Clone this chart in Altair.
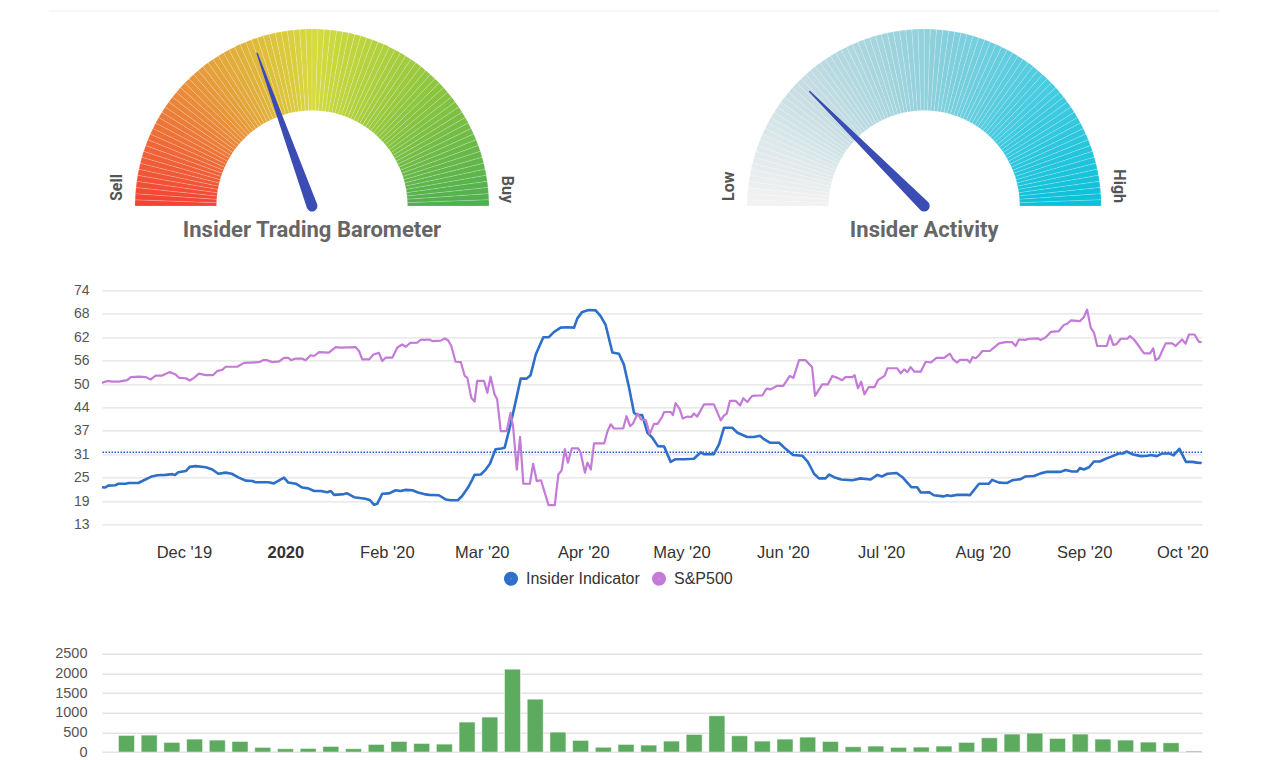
import math
import altair as alt
import pandas as pd

# ---------------- data ----------------
START = "2019-11-06"          # first day shown on the time axis
END = (2020, 10, 7)           # last day shown on the time axis
BAR_START = "2019-11-12"      # first weekly bar

# (day offset from START, value)
INSIDER = [(0, 22.7), (0.9, 22.6), (1.9, 23.1), (4.0, 23.2), (5.0, 23.6), (7.2, 23.6), (8.2, 23.8), (11.1, 23.8),
           (12.8, 24.5), (14.9, 25.4), (16.9, 25.8), (19.5, 25.9), (21.5, 26.1), (22.3, 25.9), (23.3, 26.6),
           (25.6, 26.9), (26.8, 28.0), (28.6, 28.2), (31.7, 27.9), (33.7, 27.3), (35.5, 26.2), (37.8, 26.5),
           (39.6, 26.2), (41.8, 25.2), (43.9, 24.4), (45.9, 24.3), (46.9, 24.0), (49.2, 24.0), (50.8, 24.0),
           (52.5, 23.7), (54.1, 24.5), (55.6, 25.2), (56.9, 23.9), (59.2, 23.6), (61.2, 22.6), (63.0, 22.4),
           (64.8, 21.7), (66.8, 21.7), (68.8, 21.4), (69.9, 21.7), (70.9, 20.7), (73.9, 20.9), (74.9, 21.1),
           (77.0, 20.1), (80.5, 19.7), (81.9, 19.3), (83.1, 18.1), (84.1, 18.4), (85.6, 21.0), (87.7, 21.1),
           (89.7, 21.9), (91.2, 21.7), (92.8, 22.0), (94.8, 21.9), (96.5, 21.3), (98.4, 20.9), (99.9, 20.7),
           (102.9, 20.6), (105.0, 19.5), (106.5, 19.3), (108.7, 19.3), (110.0, 20.4), (111.8, 22.6),
           (113.1, 24.7), (113.8, 25.9), (115.7, 26.0), (117.2, 27.3), (118.5, 28.8), (120.2, 32.6),
           (122.0, 32.8), (123.0, 33.0), (124.8, 39.1), (126.4, 45.2), (127.9, 51.0), (129.7, 51.0),
           (130.9, 51.9), (132.5, 57.3), (134.8, 61.8), (136.5, 61.8), (138.1, 63.2), (140.1, 64.3),
           (142.1, 64.4), (144.2, 64.3), (145.2, 66.7), (146.7, 68.4), (148.7, 68.9), (150.8, 68.8),
           (152.3, 67.3), (153.8, 65.1), (155.9, 57.8), (157.9, 57.5), (159.4, 54.7), (161.0, 48.6),
           (162.5, 42.1), (163.5, 41.5), (165.0, 41.5), (166.6, 36.9), (168.1, 35.6), (169.8, 33.4),
           (171.7, 33.3), (173.7, 29.3), (175.2, 30.0), (177.8, 30.0), (180.8, 30.1), (182.9, 31.8),
           (183.9, 31.3), (186.9, 31.3), (188.5, 33.9), (190.0, 38.2), (192.5, 38.2), (194.1, 36.9),
           (197.1, 35.8), (199.1, 35.8), (201.0, 36.1), (202.2, 35.2), (204.0, 34.3), (206.8, 34.3),
           (208.8, 32.7), (211.1, 31.1), (213.9, 30.9), (215.6, 29.3), (217.5, 26.2), (219.0, 25.0),
           (221.0, 25.0), (222.1, 26.0), (223.6, 25.3), (225.8, 24.7), (229.2, 24.5), (231.7, 25.0),
           (234.8, 24.7), (236.8, 25.9), (238.3, 25.5), (239.9, 26.2), (242.7, 26.4), (244.5, 25.3),
           (247.2, 22.7), (249.0, 22.7), (250.1, 21.3), (252.6, 21.4), (254.1, 20.6), (257.0, 20.3),
           (258.2, 20.6), (259.2, 20.4), (261.2, 20.7), (264.3, 20.7), (265.1, 20.6), (266.3, 21.9),
           (267.9, 23.6), (270.9, 23.6), (271.9, 24.6), (274.0, 23.9), (276.5, 23.8), (278.0, 24.5),
           (280.6, 24.8), (282.1, 25.5), (284.7, 25.6), (286.7, 26.3), (288.7, 26.7), (292.8, 26.7),
           (294.3, 27.2), (296.3, 26.8), (297.9, 26.8), (298.7, 27.7), (299.9, 27.3), (301.5, 27.9),
           (303.0, 29.4), (304.8, 29.4), (306.6, 30.1), (308.1, 30.6), (310.6, 31.5), (311.9, 31.5),
           (313.0, 32.0), (314.7, 31.3), (317.3, 30.8), (319.3, 30.9), (320.3, 31.1), (322.2, 30.8),
           (323.9, 31.5), (326.0, 31.5), (327.3, 31.0), (329.1, 32.7), (331.1, 29.3), (333.1, 29.3),
           (334.4, 29.1), (335.9, 29.0)]

SP500 = [(0, 49.9), (1.6, 50.4), (3.1, 50.2), (5.2, 50.2), (7.7, 50.6), (8.8, 51.4), (11.3, 51.5), (13.3, 51.4),
         (14.9, 50.8), (16.4, 51.8), (18.4, 51.8), (20.7, 52.7), (22.5, 52.1), (23.5, 51.2), (25.6, 51.1),
         (26.8, 50.5), (28.1, 51.2), (29.6, 52.3), (31.7, 51.9), (33.9, 51.9), (35.2, 53.0), (36.7, 53.3),
         (37.8, 54.1), (41.3, 54.1), (43.4, 55.1), (47.9, 55.3), (49.2, 55.8), (50.5, 55.8), (52.0, 55.3),
         (54.1, 55.5), (55.6, 56.4), (56.9, 56.4), (57.8, 55.8), (58.9, 56.2), (61.2, 56.2), (62.2, 55.8),
         (63.7, 57.1), (64.8, 56.9), (66.3, 57.9), (69.3, 57.8), (71.4, 59.2), (72.9, 59.1), (77.5, 59.2),
         (78.5, 58.2), (79.5, 56.0), (81.6, 56.0), (82.9, 57.3), (84.6, 57.7), (85.6, 55.6), (86.7, 56.5),
         (88.7, 56.5), (90.2, 59.1), (91.7, 59.9), (92.8, 59.3), (94.1, 60.3), (96.3, 60.4), (97.5, 61.2),
         (98.4, 61.1), (99.9, 61.2), (100.9, 60.8), (103.5, 60.9), (104.7, 61.5), (105.7, 61.0), (106.7, 59.5),
         (108.0, 55.4), (109.6, 55.3), (110.8, 51.7), (111.6, 51.2), (112.8, 46.0), (113.8, 45.0),
         (114.6, 50.4), (116.7, 50.4), (117.7, 47.3), (118.7, 51.5), (119.9, 46.9), (120.7, 45.6),
         (121.8, 37.3), (123.6, 37.3), (124.8, 42.1), (125.6, 38.2), (126.7, 27.3), (127.7, 35.8),
         (128.7, 23.6), (130.7, 23.6), (131.7, 28.8), (132.8, 24.3), (134.1, 24.5), (136.4, 18.0),
         (138.3, 18.0), (139.4, 26.0), (140.4, 27.1), (141.4, 32.6), (142.3, 29.1), (143.5, 32.8),
         (145.5, 32.8), (146.2, 31.7), (147.5, 26.5), (148.3, 29.1), (149.3, 27.3), (150.3, 34.1),
         (153.4, 34.1), (154.4, 37.3), (155.4, 39.1), (156.4, 38.0), (159.2, 38.0), (160.2, 41.2),
         (161.3, 38.6), (162.2, 39.3), (163.6, 41.9), (164.6, 40.4), (166.1, 40.2), (167.3, 36.6),
         (168.6, 39.2), (169.7, 39.2), (171.2, 41.2), (171.7, 42.3), (173.7, 42.3), (174.4, 41.5),
         (175.2, 44.6), (176.4, 43.2), (177.4, 40.6), (178.8, 41.1), (180.0, 41.0), (180.8, 41.9),
         (181.8, 41.1), (183.9, 44.3), (186.9, 44.3), (189.0, 40.1), (190.0, 41.4), (190.8, 41.8),
         (191.8, 45.2), (193.6, 45.2), (194.9, 44.0), (195.9, 45.9), (197.1, 44.9), (198.6, 46.5),
         (200.7, 46.6), (201.7, 46.6), (203.0, 48.4), (204.2, 48.2), (206.1, 49.1), (208.1, 49.1),
         (210.1, 51.7), (211.2, 51.2), (212.9, 55.8), (214.9, 55.8), (216.9, 54.0), (217.8, 46.5),
         (220.0, 49.5), (221.7, 49.5), (223.1, 51.7), (224.6, 51.2), (226.1, 50.6), (227.1, 51.4),
         (229.2, 51.4), (229.9, 51.9), (230.9, 48.5), (231.9, 50.2), (232.9, 46.9), (234.2, 48.8),
         (236.0, 48.8), (237.0, 50.6), (239.1, 51.8), (239.9, 53.7), (242.9, 53.7), (244.0, 52.4),
         (245.0, 53.4), (246.0, 52.7), (247.0, 54.0), (248.2, 52.8), (250.1, 52.8), (251.6, 55.4),
         (253.1, 55.2), (254.9, 56.4), (257.2, 56.4), (259.0, 57.5), (260.0, 56.0), (261.2, 55.2),
         (262.1, 55.9), (264.3, 55.9), (265.1, 55.2), (265.9, 56.6), (266.9, 56.3), (267.9, 57.1),
         (268.9, 58.2), (271.2, 58.2), (274.0, 60.2), (276.0, 60.5), (278.0, 60.5), (279.1, 59.5),
         (280.1, 61.2), (282.1, 61.1), (283.1, 61.4), (285.7, 61.5), (286.7, 61.1), (288.2, 61.7),
         (289.9, 63.2), (292.3, 63.4), (293.8, 65.0), (294.8, 65.3), (296.0, 66.2), (298.7, 66.0),
         (299.9, 67.0), (300.9, 69.0), (302.0, 64.3), (303.0, 63.0), (304.0, 59.5), (306.9, 59.5),
         (307.9, 62.3), (308.9, 59.8), (309.9, 60.0), (311.2, 61.4), (313.2, 61.4), (314.0, 62.1),
         (315.2, 61.2), (316.7, 59.5), (318.3, 57.6), (320.1, 57.6), (321.1, 58.9), (321.8, 55.8),
         (322.8, 56.3), (324.9, 60.2), (326.9, 60.2), (327.9, 59.5), (329.9, 61.2), (331.0, 60.1),
         (332.0, 62.5), (333.7, 62.5), (335.1, 60.6), (335.9, 60.5)]

INSIDER_AVG = 31.8
Y_TICKS = [13, 19.1, 25.2, 31.3, 37.4, 43.5, 49.6, 55.7, 61.8, 67.9, 74]
MONTH_TICKS = [(2019, 12)] + [(2020, m) for m in range(1, 11)]
SERIES = ["Insider Indicator", "S&P500"]

BAR_VALUES = [424, 432, 246, 330, 305, 271, 119, 85, 93, 144, 85, 195, 271, 220, 203, 763, 890, 2110,
              1347, 508, 297, 122, 195, 178, 280, 449, 924, 415, 280, 330, 381, 271, 136, 153, 119, 127,
              153, 246, 364, 458, 483, 347, 458, 330, 305, 254, 237, 25]
BAR_TICKS = [0, 500, 1000, 1500, 2000, 2500]

BAROMETER = 39      # 0 = Sell, 100 = Buy
ACTIVITY = 25       # 0 = Low, 100 = High
SEGMENTS = list(range(90))
STOP_POS = [0, 22.5, 45, 67.5, 90]
BAROMETER_COLORS = ["#f44336", "#e8943a", "#d6db3e", "#8cc63f", "#4caf50"]
ACTIVITY_COLORS = ["#f2f2f2", "#c4dde2", "#90d0db", "#47cce1", "#08c0d8"]

# ---------------- style / layout ----------------
FONT_UI = "Liberation Sans"
FONT_GAUGE = "Roboto"
BLUE = "#2e6fc8"
PURPLE = "#c47bd8"
GREEN = "#5dab5f"
NEEDLE = "#3b4cb4"
GRID = "#e3e3e3"

PLOT_W = 1100
LINE_H = 234
BAR_H = 98.3
ROW_GAP = 129.4          # space between line plot and bar plot
GAUGE_TOP = 185          # px from top of the gauge row to the gauge centres
GAUGE_ROW_H = 289.3 - 20.3 - ROW_GAP
GAUGE_CENTERS = (210, 822.2)   # px inside the row
R_OUT = 177
R_IN = 95.5
NEEDLE_LEN = 162


def dated(pairs, start, name):
    df = pd.DataFrame(pairs, columns=["day", "value"])
    ts = pd.Timestamp(start) + pd.to_timedelta(df["day"], unit="D")
    df["date"] = ts.dt.strftime("%Y-%m-%dT%H:%M:%S")
    df["series"] = name
    return df


ins_df = dated(INSIDER, START, SERIES[0])
sp_df = dated(SP500, START, SERIES[1])
bar_df = pd.DataFrame({"value": BAR_VALUES})
bar_df["date"] = pd.date_range(BAR_START, periods=len(BAR_VALUES), freq="7D").strftime("%Y-%m-%dT%H:%M:%S")

s = pd.Timestamp(START)
x_scale = alt.Scale(domain=[alt.DateTime(year=s.year, month=s.month, date=s.day),
                            alt.DateTime(year=END[0], month=END[1], date=END[2])])


# ---------------- gauges ----------------
def gauge(value, colors, title, left, right, center_px):
    gx = alt.Scale(domain=[-center_px, PLOT_W - center_px], nice=False, zero=False)
    gy = alt.Scale(domain=[GAUGE_TOP - GAUGE_ROW_H, GAUGE_TOP], nice=False, zero=False)
    seg = pd.DataFrame({"a0": SEGMENTS, "a1": [v + 1 for v in SEGMENTS]})
    seg["cx"] = 0
    seg["cy"] = 0
    arcs = alt.Chart(seg).mark_arc(
        radius=R_OUT, innerRadius=R_IN, stroke="white", strokeWidth=0.5, strokeOpacity=0.35
    ).encode(
        x=alt.X("cx:Q", scale=gx, axis=None),
        y=alt.Y("cy:Q", scale=gy, axis=None),
        theta=alt.Theta("a0:Q", stack=None,
                        scale=alt.Scale(domain=[0, len(SEGMENTS)], range=[-math.pi / 2, math.pi / 2])),
        theta2="a1:Q",
        color=alt.Color("a0:Q", scale=alt.Scale(domain=STOP_POS, range=colors, interpolate="rgb"), legend=None),
    )
    nd = pd.DataFrame({"t": [0, 1], "value": [value, value]})
    needle = alt.Chart(nd).transform_calculate(
        nx=f"-cos(PI * datum.value / 100) * datum.t * {NEEDLE_LEN}",
        ny=f"sin(PI * datum.value / 100) * datum.t * {NEEDLE_LEN}",
    ).mark_trail(color=NEEDLE).encode(
        x=alt.X("nx:Q", scale=gx, axis=None),
        y=alt.Y("ny:Q", scale=gy, axis=None),
        size=alt.Size("t:Q", scale=alt.Scale(domain=[0, 1], range=[11, 1.5]), legend=None),
    )

    def txt(label, xv, yv, **kw):
        return alt.Chart(pd.DataFrame({"label": [label]})).mark_text(
            font=FONT_GAUGE, fontWeight="bold", **kw
        ).encode(
            x=alt.X(datum=xv, scale=gx, axis=None),
            y=alt.Y(datum=yv, scale=gy, axis=None),
            text="label:N",
        )

    t_left = txt(left, -195, 5, angle=270, align="left", baseline="middle", fontSize=16, color="#555")
    t_right = txt(right, 195, 3, angle=90, align="right", baseline="middle", fontSize=16, color="#555")
    t_title = txt(title, 0, -31, align="center", baseline="alphabetic", fontSize=22, color="#666")
    return alt.layer(arcs, needle, t_left, t_right, t_title)


g1 = gauge(BAROMETER, BAROMETER_COLORS, "Insider Trading Barometer", "Sell", "Buy", GAUGE_CENTERS[0])
g2 = gauge(ACTIVITY, ACTIVITY_COLORS, "Insider Activity", "Low", "High", GAUGE_CENTERS[1])
# faint card border along the top of the page
border = alt.Chart(pd.DataFrame({"k": [0]})).mark_rule(color="#ededed", strokeWidth=1).encode(
    x=alt.value(-53), x2=alt.value(1117), y=alt.value(-10))
gauges = alt.layer(border, g1, g2).resolve_scale(
    x="independent", y="independent", color="independent", size="independent"
).properties(width=PLOT_W, height=GAUGE_ROW_H)

# ---------------- line chart ----------------
x_axis = alt.Axis(
    values=[alt.DateTime(year=yy, month=mm, date=1) for yy, mm in MONTH_TICKS],
    labelExpr="month(datum.value) == 0 ? timeFormat(datum.value, '%Y') : timeFormat(datum.value, '%b') + \" '\" + timeFormat(datum.value, '%y')",
    labelFontWeight={"condition": {"test": "month(datum.value) == 0", "value": "bold"}, "value": "normal"},
    labelFontSize=16.5, labelColor="#333", labelFont=FONT_UI, labelPadding=20, labelFlush=False,
    ticks=False, domain=False, grid=False, title=None,
)
y_axis = alt.Axis(
    values=Y_TICKS, labelExpr="round(datum.value)", labelFontSize=14, labelColor="#555",
    labelFont=FONT_UI, labelPadding=13, ticks=False, domain=False, grid=True,
    gridColor=GRID, gridWidth=1.4, title=None,
)
y_scale = alt.Scale(domain=[13, 74], nice=False, zero=False)
color = alt.Color(
    "series:N",
    scale=alt.Scale(domain=SERIES, range=[BLUE, PURPLE]),
    legend=alt.Legend(
        title=None, orient="none", legendX=401, legendY=280, direction="horizontal",
        symbolType="circle", symbolSize=44, symbolStrokeWidth=7.5, labelFontSize=16,
        labelColor="#333", labelFont=FONT_UI, labelOffset=7, columnPadding=0,
    ),
)
avg_rule = alt.Chart(pd.DataFrame({"avg": [INSIDER_AVG]})).mark_rule(
    color="#1d5fc4", strokeDash=[1.5, 1.5], strokeWidth=1.6
).encode(y=alt.Y("avg:Q", scale=y_scale, axis=y_axis))
ins_line = alt.Chart(ins_df).mark_line(strokeWidth=2.6, strokeJoin="round").encode(
    x=alt.X("date:T", scale=x_scale, axis=x_axis), y=alt.Y("value:Q", scale=y_scale, axis=y_axis), color=color)
sp_line = alt.Chart(sp_df).mark_line(strokeWidth=2.2, strokeJoin="round").encode(
    x=alt.X("date:T", scale=x_scale, axis=x_axis), y=alt.Y("value:Q", scale=y_scale, axis=y_axis), color=color)
line_chart = alt.layer(avg_rule, ins_line, sp_line).properties(width=PLOT_W, height=LINE_H)

# ---------------- bar chart ----------------
bar_chart = alt.Chart(bar_df).mark_bar(
    width=16, color=GREEN, stroke="white", strokeWidth=1, strokeOpacity=0.5
).encode(
    x=alt.X("date:T", scale=x_scale, axis=None),
    y=alt.Y("value:Q", scale=alt.Scale(domain=[0, 2500], nice=False),
            axis=alt.Axis(values=BAR_TICKS, format="d", labelFontSize=14.5, labelColor="#555",
                          labelFont=FONT_UI, labelPadding=15, ticks=False, domain=False, grid=True,
                          gridColor=GRID, gridWidth=1.4, title=None)),
).properties(width=PLOT_W, height=BAR_H)

chart = alt.vconcat(gauges, line_chart, bar_chart, spacing=ROW_GAP, bounds="flush").resolve_scale(
    x="independent", y="independent", color="independent", size="independent"
).properties(
    padding={"left": 40, "top": 2, "right": 5, "bottom": 0}
).configure(background="white").configure_view(strokeWidth=0)

chart.save("out.html", embed_options={"renderer": "svg", "actions": False})
